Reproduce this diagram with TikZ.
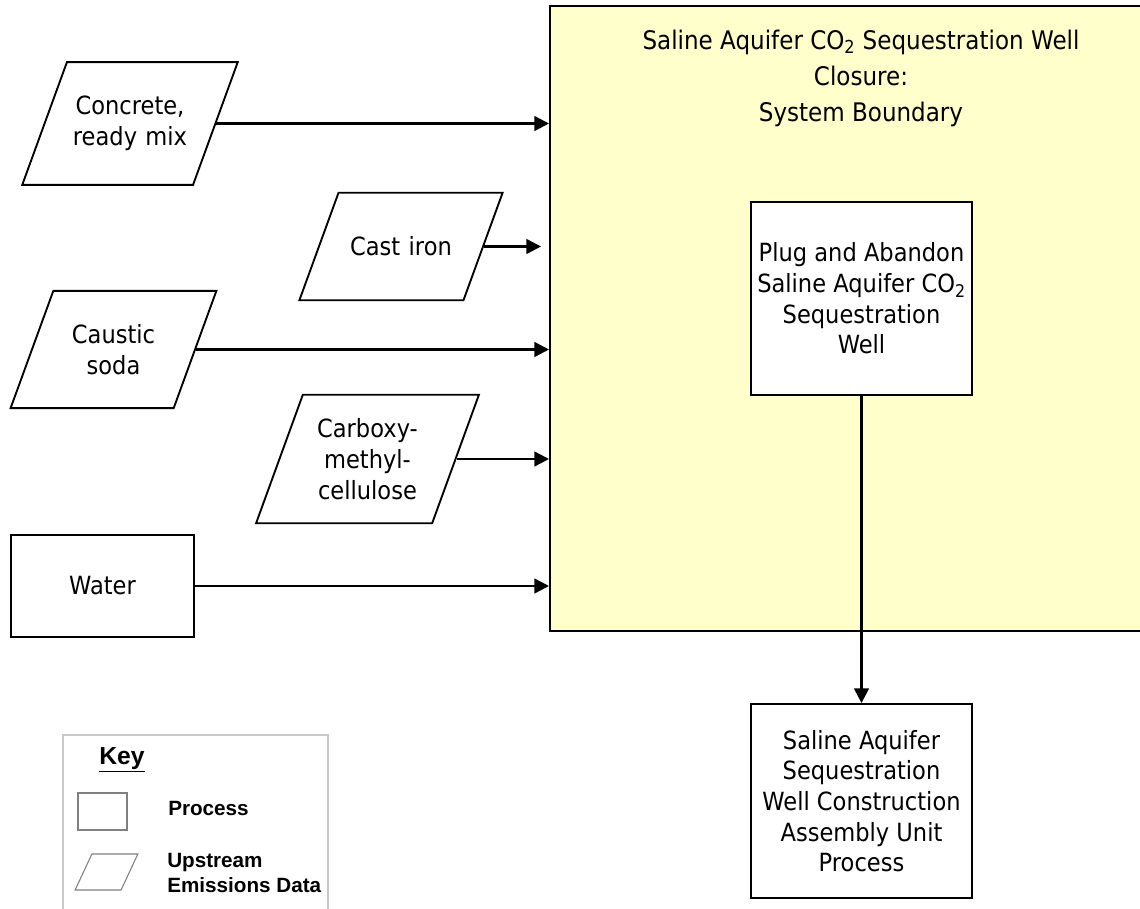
\documentclass[tikz,border=0pt]{standalone}
\usepackage{fontspec}
\setmainfont{DejaVu Sans}[FakeStretch=0.9]
\newfontfamily\keyfont{Liberation Sans}
\usetikzlibrary{shapes.geometric,arrows.meta}
\definecolor{boundaryfill}{HTML}{FFFFCC}
\definecolor{keyframe}{HTML}{C8C8C8}
\definecolor{keyshape}{HTML}{808080}
\tikzset{
  txt/.style={font=\fontsize{18.8}{23}\selectfont, align=center, inner sep=0pt},
  process/.style={txt, draw, line width=1.4pt, rectangle},
  upstream/.style={txt, draw, line width=1.4pt, trapezium, trapezium left angle=70,
    trapezium right angle=110, inner xsep=0pt},
  keytxt/.style={font=\keyfont\bfseries\fontsize{15.5}{18.75}\selectfont, align=left,
    inner sep=0pt, anchor=west},
  flow/.style={-{Triangle[length=11pt,width=11pt]}, line width=1.8pt},
}
\begin{document}
\begin{tikzpicture}[x=0.75pt,y=-0.75pt]
      \clip (0,0) rectangle (1140,909);
      \draw
        (549,5) node[draw, line width=1.8pt, fill=boundaryfill, anchor=north west,
          minimum width=473.25pt, minimum height=468.75pt] (boundary){}
        (861,78) node[txt, font=\fontsize{19.2}{27}\selectfont] (title)
          {Saline Aquifer CO\textsubscript{2} Sequestration Well\\Closure:\\System Boundary}
        (130,123.5) node[upstream, text width=94.6pt, inner ysep=25.6pt] (concrete)
          {Concrete,\\ready mix}
        (401,246.5) node[upstream, text width=93.75pt, inner ysep=33pt] (castiron)
          {Cast iron}
        (113.5,349.5) node[upstream, text width=90.3pt, inner ysep=25.2pt] (caustic)
          {Caustic\\soda}
        (367.5,459) node[upstream, text width=97pt, inner ysep=17.9pt] (cmc)
          {Carboxy-\\methyl-\\cellulose}
        (102.5,586) node[process, minimum width=137.25pt, minimum height=76.5pt] (water)
          {Water}
        (861.5,298.5) node[process, fill=white, minimum width=165.75pt, minimum height=144.75pt] (plug)
          {Plug and Abandon\\Saline Aquifer CO\textsubscript{2}\\Sequestration\\Well}
        (861.5,801) node[process, minimum width=165.75pt, minimum height=145.5pt] (construction)
          {Saline Aquifer\\Sequestration\\Well Construction\\Assembly Unit\\Process};
      \draw[keyframe, line width=0.8pt] (63,912) -- (63,735) -- (328,735) -- (328,912);
      \draw
        (122,760) node[font=\keyfont\bfseries\fontsize{18.5}{20}\selectfont, inner sep=0pt] (keytitle)
          {\underline{Key}}
        (102.5,811.5) node[draw=keyshape, line width=0.8pt, minimum width=36.75pt,
          minimum height=27.75pt] (keyprocess){}
        (168,808) node[keytxt] (keyprocesslbl){Process}
        (106.5,872) node[draw=keyshape, line width=0.8pt, trapezium, trapezium left angle=65,
          trapezium right angle=115, inner xsep=0pt, text width=21.9pt, inner ysep=13.5pt] (keyupstream){}
        (167,872.5) node[keytxt] (keyupstreamlbl){Upstream\\Emissions Data};
      \begin{scope}[flow]
        \draw (concrete.east) to (concrete.east -| boundary.west);
        \draw[shorten >=6pt] (castiron.east) to (castiron.east -| boundary.west);
        \draw (caustic.east) to (caustic.east -| boundary.west);
        \draw (cmc.east) to (cmc.east -| boundary.west);
        \draw (water.east) to (water.east -| boundary.west);
        \draw (plug.south) to (construction.north);
      \end{scope}
    \end{tikzpicture}
\end{document}
